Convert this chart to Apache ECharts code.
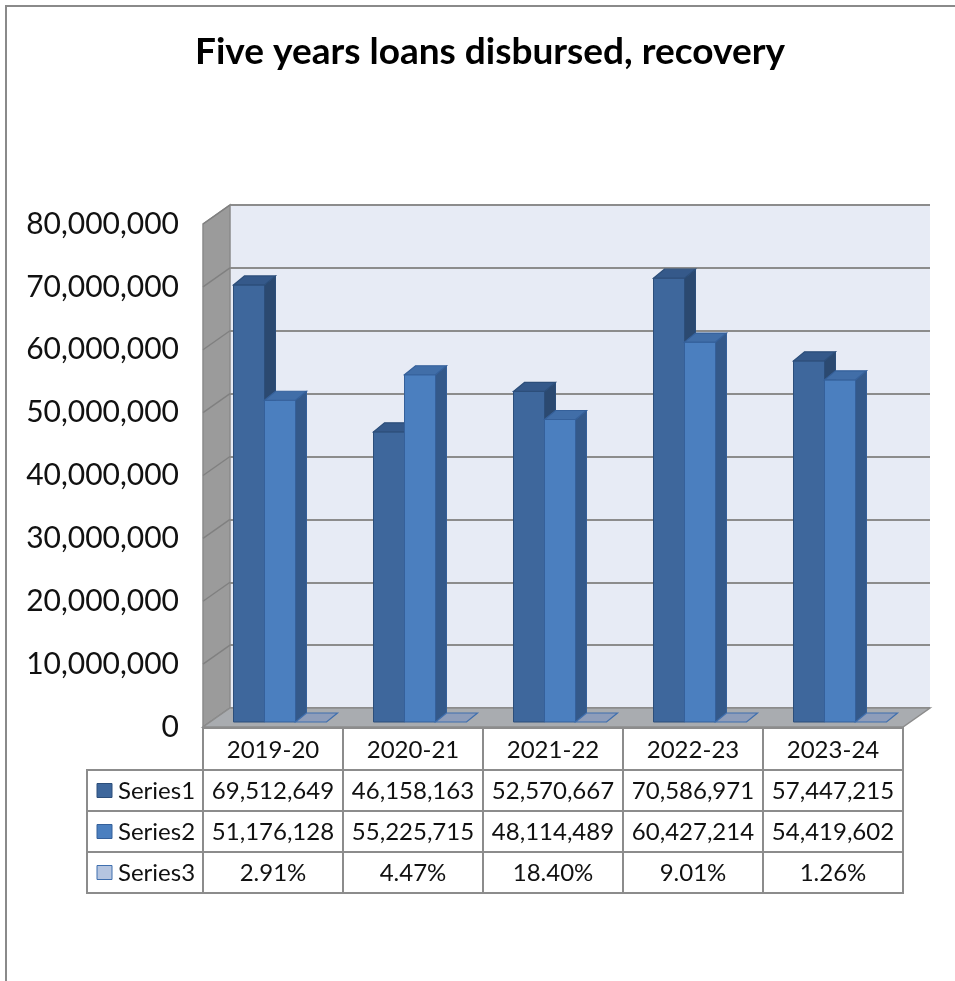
<!DOCTYPE html>
<html>
<head>
<meta charset="utf-8">
<title>Five years loans disbursed, recovery</title>
<script src="https://cdn.jsdelivr.net/npm/echarts@6/dist/echarts.min.js"></script>
<style>
  html, body { margin: 0; padding: 0; background: #fff; }
  #chart { width: 955px; height: 981px; }
</style>
</head>
<body>
<div id="chart"></div>
<script>
// ------------------- D A T A ------------------- //
const years = ['2019-20', '2020-21', '2021-22', '2022-23', '2023-24']
const series1 = [69512649, 46158163, 52570667, 70586971, 57447215]
const series2 = [51176128, 55225715, 48114489, 60427214, 54419602]
const series3 = [0.0291, 0.0447, 0.184, 0.0901, 0.0126]
const seriesNames = ['Series1', 'Series2', 'Series3']
const yMin = 0
const yMax = 80000000
const yStep = 10000000

// ------------------ S T Y L E ------------------ //
const FONT = 'Lato'
const DEPTH = [27, -19] // front plane -> back wall
const BAR_SHIFT = [7, -5] // front plane -> bar front face
const BAR_DEPTH = [11, -9]
const BAR_W = 31
const GRID_CLR = '#8c8c8c'
const colors = [
  { front: '#3e679c', top: '#35598a', side: '#2b4970', line: '#2c4e7a', key: '#3e679c' },
  { front: '#4b7fbf', top: '#416ea8', side: '#34598a', line: '#35609a', key: '#4b7fbf' },
  { front: '#a9bad8', top: '#8e9dba', side: '#7d8db0', line: '#3f6fae', key: '#b5c5e0' }
]
const rowsY = [728, 770, 811, 852, 893]
const labelColLeft = 87

const fmtNum = (v) => v.toLocaleString('en-US')
const fmtPct = (v) => (v * 100).toFixed(2) + '%'

// ---------------- R E N D E R ------------------ //
const wallsItem = (params, api) => {
  const cs = params.coordSys
  const L = cs.x
  const R = cs.x + cs.width
  const T = cs.y
  const B = cs.y + cs.height
  const [dx, dy] = DEPTH
  const children = []
  // side wall
  children.push({
    type: 'polygon',
    shape: { points: [[L, T], [L + dx, T + dy], [L + dx, B + dy], [L, B]] },
    style: { fill: '#9b9b9b', stroke: '#8a8a8a', lineWidth: 1.5 }
  })
  for (let v = yMin; v <= yMax; v += yStep) {
    const p = api.coord([0, v])
    children.push({
      type: 'line',
      shape: { x1: L, y1: p[1], x2: L + dx, y2: p[1] + dy },
      style: { stroke: '#808080', lineWidth: 1.5 }
    })
  }
  // floor
  children.push({
    type: 'polygon',
    shape: { points: [[L, B], [R, B], [R + dx, B + dy], [L + dx, B + dy]] },
    style: { fill: '#a9acb0', stroke: GRID_CLR, lineWidth: 1.5 }
  })
  return { type: 'group', children }
}

const barItem = (k) => (params, api) => {
  const cat = api.value(0)
  const base = api.coord([cat, 0])
  const top = api.coord([cat, api.value(1)])
  const x0 = base[0] - 1.5 * BAR_W + k * BAR_W + BAR_SHIFT[0]
  const x1 = x0 + BAR_W
  const y0 = base[1] + BAR_SHIFT[1]
  const y1 = top[1] + BAR_SHIFT[1]
  const [dx, dy] = BAR_DEPTH
  const c = colors[k]
  const children = []
  if (y0 - y1 >= 1) {
    children.push({
      type: 'rect',
      shape: { x: x0, y: y1, width: BAR_W, height: y0 - y1 },
      style: { fill: c.front, stroke: c.line, lineWidth: 1 }
    })
    children.push({
      type: 'polygon',
      shape: { points: [[x1, y1], [x1 + dx, y1 + dy], [x1 + dx, y0 + dy], [x1, y0]] },
      style: { fill: c.side, stroke: c.line, lineWidth: 1 }
    })
  }
  children.push({
    type: 'polygon',
    shape: { points: [[x0, y1], [x1, y1], [x1 + dx, y1 + dy], [x0 + dx, y1 + dy]] },
    style: { fill: c.top, stroke: c.line, lineWidth: 1.2 }
  })
  return { type: 'group', children }
}

const cellText = (x, y, text) => ({
  type: 'text',
  x,
  y,
  style: {
    text,
    font: '24px ' + FONT,
    fill: '#111',
    align: 'center',
    verticalAlign: 'middle'
  }
})

const cellRect = (x, y, w, h) => ({
  type: 'rect',
  shape: { x, y, width: w, height: h },
  style: { fill: '#fff', stroke: GRID_CLR, lineWidth: 2 }
})

const tableItem = (params, api) => {
  const i = api.value(0)
  const c = api.coord([i, 0])
  const w = api.size([1, 0])[0]
  const x0 = c[0] - w / 2
  const texts = [years[i], fmtNum(series1[i]), fmtNum(series2[i]), fmtPct(series3[i])]
  const children = []
  for (let r = 0; r < 4; r++) {
    const h = rowsY[r + 1] - rowsY[r]
    children.push(cellRect(x0, rowsY[r], w, h))
    children.push(cellText(c[0], rowsY[r] + h / 2 + 1, texts[r]))
  }
  if (i === 0) {
    for (let r = 1; r < 4; r++) {
      const h = rowsY[r + 1] - rowsY[r]
      const mid = rowsY[r] + h / 2
      children.push(cellRect(labelColLeft, rowsY[r], x0 - labelColLeft, h))
      children.push({
        type: 'rect',
        shape: { x: labelColLeft + 10, y: mid - 7, width: 15, height: 14 },
        style: { fill: colors[r - 1].key, stroke: colors[r - 1].line, lineWidth: 1 }
      })
      children.push({
        type: 'text',
        x: labelColLeft + 31,
        y: mid + 1,
        style: {
          text: seriesNames[r - 1],
          font: '24px ' + FONT,
          fill: '#111',
          align: 'left',
          verticalAlign: 'middle'
        }
      })
    }
  }
  return { type: 'group', children }
}

// ---------------- O P T I O N ------------------ //
const catIdx = years.map((_, i) => i)

const option = {
  animation: false,
  graphic: [
    {
      type: 'rect',
      z: -10,
      shape: { x: 6, y: 6, width: 1500, height: 1500 },
      style: { fill: '#fff', stroke: '#8a8a8a', lineWidth: 2 }
    },
    {
      type: 'text',
      x: 490,
      y: 52,
      style: {
        text: 'Five years loans disbursed, recovery',
        font: 'bold 37px ' + FONT,
        fill: '#000',
        align: 'center',
        verticalAlign: 'middle'
      }
    }
  ],
  grid: [
    // front plane
    { left: 203, top: 224, width: 700, height: 503 },
    // back wall
    {
      left: 230,
      top: 205,
      width: 700,
      height: 503,
      show: true,
      backgroundColor: '#e7ebf5',
      borderWidth: 0
    }
  ],
  xAxis: [
    { type: 'category', gridIndex: 0, data: years, show: false },
    { type: 'category', gridIndex: 1, data: years, show: false }
  ],
  yAxis: [
    {
      type: 'value',
      gridIndex: 0,
      min: yMin,
      max: yMax,
      interval: yStep,
      axisLine: { show: false },
      axisTick: { show: false },
      splitLine: { show: false },
      axisLabel: {
        margin: 24,
        color: '#111',
        fontSize: 30,
        fontFamily: FONT,
        formatter: (v) => fmtNum(v)
      }
    },
    {
      type: 'value',
      gridIndex: 1,
      min: yMin,
      max: yMax,
      interval: yStep,
      axisLine: { show: false },
      axisTick: { show: false },
      axisLabel: { show: false },
      splitLine: { show: true, lineStyle: { color: GRID_CLR, width: 2 } }
    }
  ],
  series: [
    {
      type: 'custom',
      xAxisIndex: 0,
      yAxisIndex: 0,
      renderItem: wallsItem,
      data: [[0, 0]],
      silent: true,
      z: 1
    },
    ...[series1, series2, series3].map((vals, k) => ({
      type: 'custom',
      name: seriesNames[k],
      xAxisIndex: 0,
      yAxisIndex: 0,
      renderItem: barItem(k),
      encode: { x: 0, y: 1 },
      data: vals.map((v, i) => [i, v]),
      z: 3
    })),
    {
      type: 'custom',
      xAxisIndex: 0,
      yAxisIndex: 0,
      renderItem: tableItem,
      data: catIdx.map((i) => [i, 0]),
      silent: true,
      z: 4
    }
  ]
}

const myChart = echarts.init(document.getElementById('chart'), null, { renderer: 'canvas' })
myChart.setOption(option)
</script>
</body>
</html>
